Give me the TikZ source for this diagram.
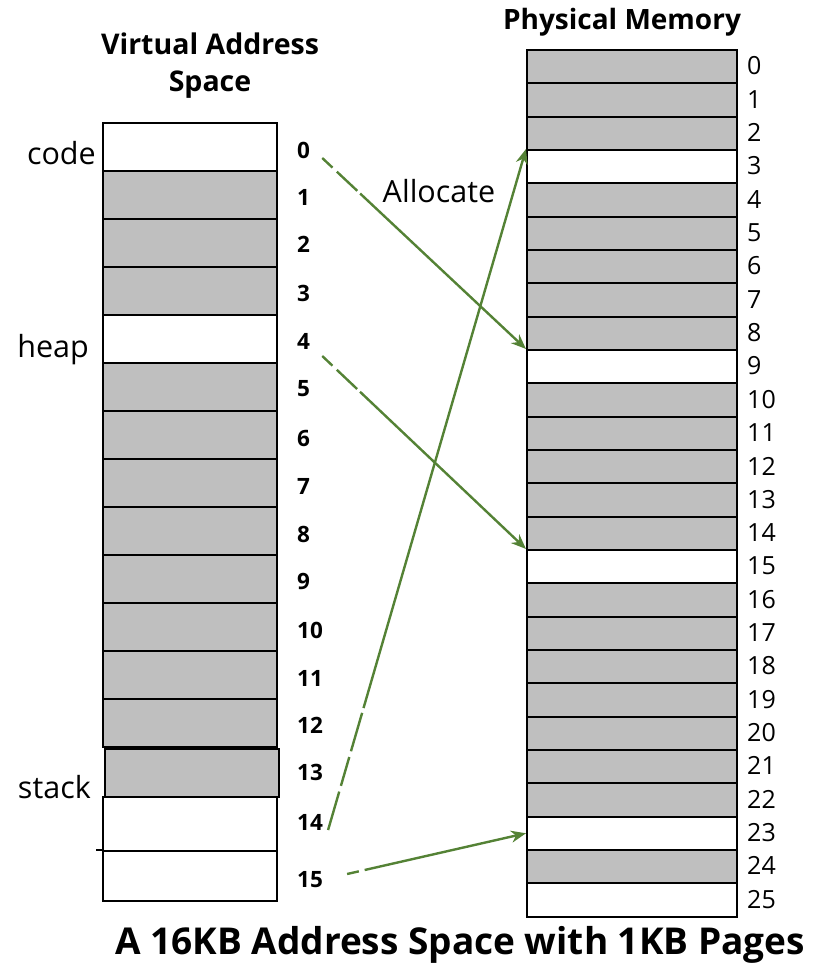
\documentclass[tikz,border=0pt]{standalone}
\usepackage{fontspec}
\setmainfont{Open Sans}
\usetikzlibrary{arrows.meta,calc}
\definecolor{grn}{RGB}{84,130,53}
\definecolor{cellgray}{RGB}{191,191,191}
\begin{document}
\begin{tikzpicture}[x=1pt,y=-1pt,
 vrow/.style={draw, line width=2pt, minimum width=174pt, minimum height=48pt, inner sep=0, anchor=north west, fill=cellgray},
 prow/.style={draw, line width=2pt, minimum width=210pt, minimum height=33.33pt, inner sep=0, anchor=north west},
 vnum/.style={font=\fontsize{22.5}{26}\selectfont\bfseries, anchor=west, inner sep=0},
 pnum/.style={font=\fontsize{25}{28}\selectfont, anchor=west, inner sep=0},
 lab/.style={font=\fontsize{30.5}{34}\selectfont, inner sep=0},
 ttl/.style={font=\fontsize{28.5}{37}\selectfont\bfseries, align=center, inner sep=0},
 map/.style={grn, line width=2.4pt, -{Stealth[length=15pt,width=12pt]}}
]
\useasboundingbox (0,0) rectangle (813,970);
% titles
\node[ttl] (vtitle) at (210,66) {Virtual Address\\Space};
\node[ttl, font=\fontsize{28}{34}\selectfont\bfseries] (ptitle) at (622,22) {Physical Memory};
\node[font=\fontsize{37}{40}\selectfont\bfseries, inner sep=0] (caption) at (460,945) {A 16KB Address Space with 1KB Pages};
% virtual address space
\foreach \i/\c in {0/white,1/cellgray,2/cellgray,3/cellgray,4/white,5/cellgray,6/cellgray,7/cellgray,8/cellgray,9/cellgray,10/cellgray,11/cellgray,12/cellgray}{
  \node[vrow, fill=\c] (v\i) at (102,{122+48*\i}) {};
}
\node[vrow] (v13) at (104,748) {};
\node[vrow, fill=white, minimum height=54pt] (v14) at (102,796) {};
\node[vrow, fill=white, minimum height=50pt] (v15) at (102,850) {};
\draw[line width=2pt] (96,850) -- (v15.north west);
\foreach \i/\y in {0/150,1/197,2/244,3/293,4/341,5/389,6/438,7/486,8/534,9/581,10/630,11/678,12/725,13/772,14/822,15/880}{
  \node[vnum] (vl\i) at (297,\y) {\i};
}
\node[lab, anchor=east] (lcode) at (96,153) {code};
\node[lab, anchor=east] (lheap) at (89,350) {heap};
\node[lab, anchor=east] (lstack) at (91,787) {stack};
% physical memory
\foreach \i/\c in {0/cellgray,1/cellgray,2/cellgray,3/white,4/cellgray,5/cellgray,6/cellgray,7/cellgray,8/cellgray,9/white,10/cellgray,11/cellgray,12/cellgray,13/cellgray,14/cellgray,15/white,16/cellgray,17/cellgray,18/cellgray,19/cellgray,20/cellgray,21/cellgray,22/cellgray,23/white,24/cellgray,25/white}{
  \node[prow, fill=\c] (p\i) at (526,{49+33.33*\i}) {};
  \node[pnum] (pl\i) at (747,{49+33.33*\i+17}) {\i};
}
\node[lab] (alloc) at (439,191) {Allocate};
% mappings
\draw[map, dash pattern=on 14pt off 6pt on 28pt off 4pt on 2000pt] ($(vl0.east)+(12,8)$) -- (p9.north west);
\draw[map, dash pattern=on 14pt off 6pt on 28pt off 4pt on 2000pt] ($(vl4.east)+(12,15)$) -- (p15.north west);
\draw[map, dash pattern=on 40pt off 6pt on 30pt off 6pt on 40pt off 5pt on 2000pt] ($(vl14.east)+(5,8)$) -- (p3.north west);
\draw[map, dash pattern=on 12pt off 6pt on 2000pt] ($(vl15.east)+(24,-6)$) -- (p23.west);
\end{tikzpicture}
\end{document}
